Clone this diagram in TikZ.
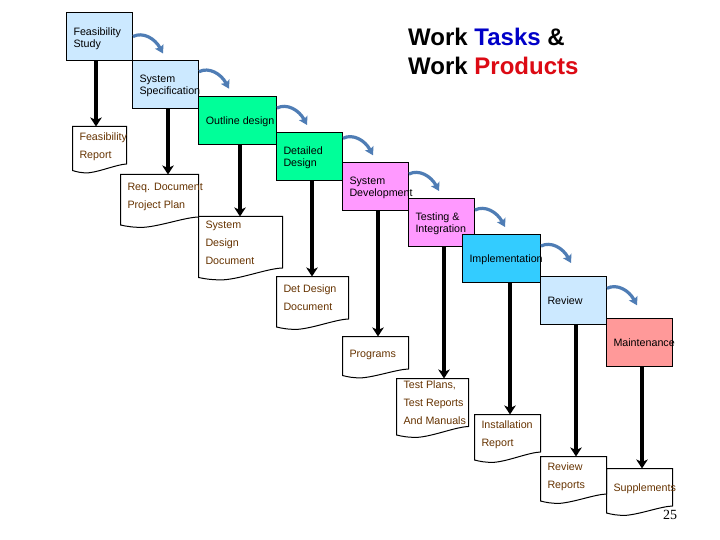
\documentclass[tikz,border=0pt]{standalone}
\usepackage{fontspec}
\setmainfont{Liberation Sans}
\newfontfamily\pagefont{Liberation Serif}
\usetikzlibrary{arrows.meta}
\definecolor{skyfill}{HTML}{CCE9FF}
\definecolor{greenfill}{HTML}{00FF99}
\definecolor{pinkfill}{HTML}{FF99FF}
\definecolor{bluefill}{HTML}{33CCFF}
\definecolor{redfill}{HTML}{FF9999}
\definecolor{doctext}{HTML}{663300}
\definecolor{curlblue}{HTML}{4F7DB5}
\definecolor{titleblue}{HTML}{0000C8}
\definecolor{titlered}{HTML}{DC0A14}
\tikzset{
  taskbox/.style={draw=black,line width=1pt,inner sep=0pt,minimum width=66pt,minimum height=48pt},
  docbox/.style={inner sep=0pt,outer sep=0pt},
  docline/.style={draw=black,fill=white,line width=1pt},
  tasklabel/.style={anchor=north west,inner sep=0pt,align=left,text=black,yshift=-1pt,font=\fontsize{10.7}{12}\selectfont},
  doclabel/.style={anchor=north west,inner sep=0pt,align=left,text=doctext,yshift=-1pt,font=\fontsize{10.7}{18}\selectfont},
  titlelabel/.style={anchor=north west,inner sep=0pt,align=left,font=\fontsize{24}{29}\selectfont\bfseries},
  flow/.style={draw=black,line width=4.8pt,-{Stealth[length=9pt,width=11.5pt,inset=2.5pt]}},
  curl/.style={draw=curlblue,line width=3.2pt,-{Stealth[length=8pt,width=9.5pt,inset=1.5pt]}}
}
% name, x0, x1, top, y right, y left
\newcommand{\docshape}[6]{%
  \pgfmathsetmacro{\dw}{#3-#2}%
  \pgfmathsetmacro{\dcx}{(#2+#3)/2}%
  \pgfmathsetmacro{\dcy}{(#4+#5)/2}%
  \pgfmathsetmacro{\dh}{#5-#4}%
  \node[docbox,minimum width=\dw pt,minimum height=\dh pt] (#1) at (\dcx,\dcy) {};
  \draw[docline] (#1.north west) -- (#1.north east) -- (#1.south east)
    .. controls +(-0.18*\dw pt,-0.5pt) and (#2+0.52*\dw,#6+1) .. (#2+0.3*\dw,#6+2.3)
    .. controls (#2+0.17*\dw,#6+2.6) and (#2+0.08*\dw,#6+1.4) .. (#2,#6)
    -- cycle;
}
\newcommand{\flowline}[4]{%
  \coordinate (#1) at (#4,0);
  \draw[flow] (#2.south -| #1) -- (#3.north -| #1);
}
% from node, shift up from the east anchor
\newcommand{\curlarrow}[2]{%
  \draw[curl] ([yshift=#2pt]#1.east) .. controls +(10,-5) and +(-8,-15) .. +(30,17);
}
\begin{document}
\begin{tikzpicture}[x=1pt,y=-1pt]
\useasboundingbox (0,0) rectangle (720,540);
\fill[white] (0,0) rectangle (720,540);
% document shapes
\docshape{dFeas}{72.5}{126.5}{126.5}{164}{170.5}
\docshape{dReq}{120.5}{198.5}{174.5}{217}{225}
\docshape{dSys}{198.5}{282.5}{216.5}{268}{277.5}
\docshape{dDet}{276.5}{348.5}{276.5}{319}{327}
\docshape{dProg}{342.5}{408.5}{336.5}{369}{375.5}
\docshape{dTest}{396.5}{468.5}{378.5}{426.5}{435}
\docshape{dInst}{474.5}{540.5}{414.5}{452}{460}
\docshape{dSupp}{606.5}{672.5}{468.5}{506}{513}
\docshape{dRev}{540.5}{606.5}{456.5}{494}{501}
% task boxes
\node[taskbox,fill=skyfill] (tFeas) at (99.5,36.5) {};
\node[taskbox,fill=skyfill] (tSpec) at (165.5,84.5) {};
\node[taskbox,fill=greenfill,minimum width=78pt] (tOut) at (237.5,120.5) {};
\node[taskbox,fill=greenfill] (tDet) at (309.5,156.5) {};
\node[taskbox,fill=pinkfill] (tDev) at (375.5,186.5) {};
\node[taskbox,fill=pinkfill] (tTest) at (441.5,222.5) {};
\node[taskbox,fill=bluefill,minimum width=78pt] (tImp) at (501.5,258.5) {};
\node[taskbox,fill=skyfill] (tRev) at (573.5,300.5) {};
\node[taskbox,fill=redfill] (tMain) at (639.5,342.5) {};
% flows
\flowline{c1}{tFeas}{dFeas}{96}
\flowline{c2}{tSpec}{dReq}{168}
\flowline{c3}{tOut}{dSys}{240}
\flowline{c4}{tDet}{dDet}{312}
\flowline{c5}{tDev}{dProg}{378}
\flowline{c6}{tTest}{dTest}{444}
\flowline{c7}{tImp}{dInst}{510}
\flowline{c8}{tRev}{dRev}{576}
\flowline{c9}{tMain}{dSupp}{642}
% curved arrows
\curlarrow{tFeas}{0}
\curlarrow{tSpec}{12.8}
\curlarrow{tOut}{12.5}
\curlarrow{tDet}{18.2}
\curlarrow{tDev}{12.5}
\curlarrow{tTest}{12.5}
\curlarrow{tImp}{12.5}
\curlarrow{tRev}{12.2}
% task labels (y = first baseline - 8)
\node[tasklabel] (l1) at (73.3,26.3) {Feasibility\\Study};
\node[tasklabel] (l2) at (139.3,74.3) {System\\Specification};
\node[tasklabel] (l3) at (205.7,116) {Outline design};
\node[tasklabel] (l4) at (283.3,146) {Detailed\\Design};
\node[tasklabel] (l5) at (349.3,176) {System\\Development};
\node[tasklabel] (l6) at (415.3,212) {Testing \&\\Integration};
\node[tasklabel] (l7) at (469.3,254) {Implementation};
\node[tasklabel] (l8) at (547.3,296) {Review};
\node[tasklabel] (l9) at (613.3,337.3) {Maintenance};
% document labels
\node[doclabel] (m1) at (79.3,132) {Feasibility\\Report};
\node[doclabel] (m2) at (127.3,182) {Req. Document\\Project Plan};
\node[doclabel] (m3) at (205.3,220) {System\\Design\\Document};
\node[doclabel] (m4) at (283.3,284) {Det Design\\Document};
\node[doclabel] (m5) at (349.3,348.7) {Programs};
\node[doclabel] (m6) at (403.3,380) {Test Plans,\\Test Reports\\And Manuals};
\node[doclabel] (m7) at (481.3,420) {Installation\\Report};
\node[doclabel] (m8) at (547.3,462) {Review\\Reports};
\node[doclabel] (m9) at (613.3,483) {Supplements};
% title and page number
\node[titlelabel] (title) at (408,27.5) {Work \textcolor{titleblue}{Tasks} \&\\Work \textcolor{titlered}{Products}};
\node[anchor=base west,inner sep=0pt,font=\pagefont\fontsize{14}{16}\selectfont] (page) at (663,519.5) {25};
\end{tikzpicture}
\end{document}
